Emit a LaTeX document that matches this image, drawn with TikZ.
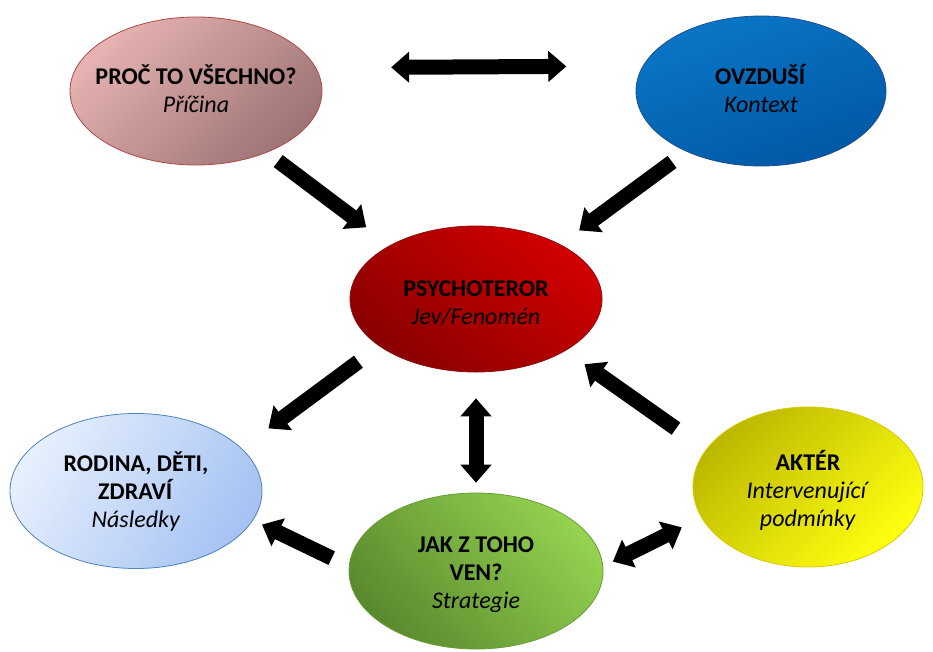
\documentclass[tikz,border=0pt]{standalone}
\usepackage{fontspec}
\setmainfont{Carlito}
\usetikzlibrary{shapes.geometric,arrows.meta}
\definecolor{tlA}{HTML}{E6B2B2}\definecolor{tlB}{HTML}{9E7474}\definecolor{tlE}{HTML}{B04848}
\definecolor{trA}{HTML}{0A76C6}\definecolor{trB}{HTML}{0058A6}\definecolor{trE}{HTML}{1F4E8C}
\definecolor{cA}{HTML}{D20000}\definecolor{cB}{HTML}{8A0000}\definecolor{cE}{HTML}{8A1010}
\definecolor{lA}{HTML}{E6EFFD}\definecolor{lB}{HTML}{A6C3F3}\definecolor{lE}{HTML}{4F81BD}
\definecolor{bA}{HTML}{94D250}\definecolor{bB}{HTML}{5A8A2E}\definecolor{bE}{HTML}{6A9A3A}
\definecolor{rA}{HTML}{BCB800}\definecolor{rB}{HTML}{FFFF10}\definecolor{rE}{HTML}{D8C800}
\tikzset{
  ell/.style={ellipse, draw, line width=0.8pt, inner sep=0pt, outer sep=0pt,
    minimum width=252pt, minimum height=148pt},
  txt/.style={align=center, inner sep=0pt, font=\fontsize{24}{28}\selectfont},
  fat/.style={line width=15pt, -{Triangle[width=30pt,length=18pt]}},
  fatboth/.style={line width=15pt, {Triangle[width=30pt,length=18pt]}-{Triangle[width=30pt,length=18pt]}}
}
\begin{document}
\begin{tikzpicture}[x=1pt,y=-1pt]
\useasboundingbox (0,0) rectangle (933,651);
% ellipses
\node[ell, draw=tlE, top color=tlA, bottom color=tlB, shading angle=45] (tl) at (196,91) {};
\node[ell, draw=trE, top color=trA, bottom color=trB, shading angle=20, minimum width=250pt, minimum height=150pt] (tr) at (761,91) {};
\node[ell, draw=cE, top color=cA, bottom color=cB, shading angle=-40, minimum height=146pt] (c) at (476,299) {};
\node[ell, draw=lE, top color=lA, bottom color=lB, shading angle=60, minimum height=155pt] (l) at (136,491) {};
\node[ell, draw=bE, top color=bA, bottom color=bB, shading angle=-50, minimum width=254pt, minimum height=156pt] (b) at (476,571) {};
\node[ell, draw=rE, top color=rA, bottom color=rB, shading angle=45, minimum width=230pt, minimum height=160pt] (r) at (808,487) {};
% texts
\node[txt] (tlt) at (196,89) {\textbf{PROČ TO VŠECHNO?}\\\textit{Příčina}};
\node[txt] (trt) at (761,89) {\textbf{OVZDUŠÍ}\\\textit{Kontext}};
\node[txt] (ct) at (476,303) {\textbf{PSYCHOTEROR}\\\textit{Jev/Fenomén}};
\node[txt] (lt) at (136,492) {\textbf{RODINA, DĚTI,}\\\textbf{ZDRAVÍ}\\\textit{Následky}};
\node[txt] (bt) at (476,575) {\textbf{JAK Z TOHO}\\\textbf{VEN?}\\\textit{Strategie}};
\node[txt] (rt) at (808,490) {\textbf{AKTÉR}\\\textit{Intervenující}\\\textit{podmínky}};
% arrows
\draw[fatboth, shorten <=75.5pt, shorten >=76.9pt] (tl.11.38) -- (tr.168.54);
\draw[fat, shorten <=14.6pt, shorten >=30.2pt] (tl.-41.9) -- (c.148.7);
\draw[fat, shorten <=18pt, shorten >=23.9pt] (tr.-141.2) -- (c.33.5);
\draw[fat, shorten <=26.4pt, shorten >=33.7pt] (c.-154.0) -- (l.22.07);
\draw[fatboth, shorten <=26.3pt, shorten >=10.3pt] (c.south) -- (b.north);
\draw[fat, shorten <=36.9pt, shorten >=23.7pt] (r.160.9) -- (c.-30.75);
\draw[fat, shorten <=19.4pt, shorten >=10.2pt] (b.178.96) -- (l.-14.15);
\draw[fatboth, shorten <=11.2pt, shorten >=22.2pt] (b.2.35) -- (r.-164.9);
\end{tikzpicture}
\end{document}
